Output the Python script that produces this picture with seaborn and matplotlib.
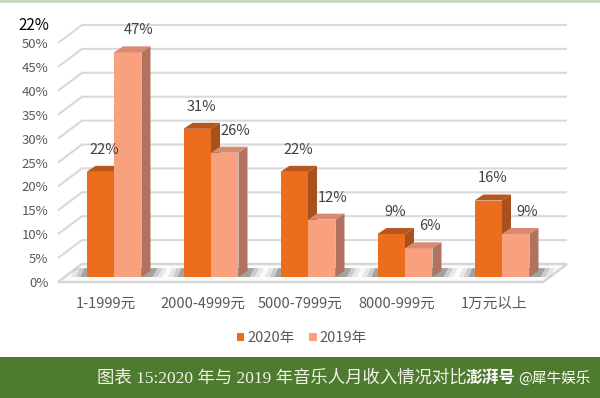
import numpy as np
import pandas as pd
import matplotlib
matplotlib.use('Agg')
import matplotlib.pyplot as plt
import seaborn as sns
from matplotlib.patches import Polygon, Rectangle

# 数据
categories = ['1-1999元', '2000-4999元', '5000-7999元', '8000-999元', '1万元以上']
years = ['2020年', '2019年']
vals_2020 = [22, 31, 22, 9, 16]
vals_2019 = [47, 26, 12, 6, 9]
yticks = list(range(0, 55, 5))

front_cols = ['#EB6E1E', '#F9A07F']
top_cols = ['#B8561E', '#D88B70']
side_cols = ['#A8501E', '#B07360']

df = pd.DataFrame({
    '收入': categories * 2,
    '年份': [years[0]] * len(categories) + [years[1]] * len(categories),
    '比例': vals_2020 + vals_2019,
})

sns.set_theme(style='white')
plt.rcParams['font.family'] = ['Noto Sans CJK SC', 'DejaVu Sans']

fig = plt.figure(figsize=(6, 3.98), dpi=100)
fig.patch.set_facecolor('white')
ax = fig.add_axes([58 / 600, 116 / 398, 517 / 600, 262 / 398])

# 像素 -> 数据 的比例
px_x = 97.0
px_y = 4.78

sns.barplot(data=df, x='收入', y='比例', hue='年份', order=categories,
            hue_order=years, palette=front_cols, width=0.567, saturation=1,
            linewidth=0, errorbar=None, ax=ax)

ax.set_xlim(-56 / px_x, 461 / px_x)
ax.set_ylim(-5 / px_y, 257 / px_y)

# 3D 底面和网格线
f0 = -5 / px_y
fdx, fdy = 24 / px_x, 18 / px_y
x0 = -56 / px_x
x_front_end = 429 / px_x
floor = Polygon([(x0, f0), (x_front_end, f0), (x_front_end + fdx, f0 + fdy),
                 (x0 + fdx, f0 + fdy)], closed=True, facecolor='#fbfbfb',
                edgecolor='#d6d6d6', lw=1.8, zorder=0.5, clip_on=False)
ax.add_patch(floor)
for v in yticks[1:]:
    ax.plot([x0, x0 + fdx, x_front_end + fdx], [v + f0, v + f0 + fdy, v + f0 + fdy],
            color='#d9d9d9', lw=1.5, zorder=0.4, clip_on=False, solid_capstyle='butt')

# 柱子的顶面和侧面
bar_dx, bar_dy = 9 / px_x, 6 / px_y
bars = []
for i, cont in enumerate(ax.containers):
    for p in cont:
        bars.append((p.get_x(), i, p))
bars.sort(key=lambda b: b[0])

# 阴影
for c in range(len(categories)):
    for k, a in enumerate([0.10, 0.16, 0.28]):
        e = 0.05 * (2 - k)
        sh = Polygon([(c - 0.284 - 0.06 - e, 0), (c + 0.284 + bar_dx + 0.02 + e, 0),
                      (c + 0.284 + bar_dx + 0.07 + e, bar_dy + 0.6),
                      (c - 0.284 - 0.02 - e, bar_dy + 0.6)],
                     closed=True, facecolor='#3a3a3a', alpha=a, lw=0, zorder=0.8)
        ax.add_patch(sh)

label_dx = [4 / px_x, 11 / px_x]
z = 2
for x, i, p in bars:
    w, h = p.get_width(), p.get_height()
    p.set_zorder(z)
    top = Polygon([(x, h), (x + w, h), (x + w + bar_dx, h + bar_dy), (x + bar_dx, h + bar_dy)],
                  closed=True, facecolor=top_cols[i], lw=0, zorder=z)
    side = Polygon([(x + w, 0), (x + w + bar_dx, bar_dy), (x + w + bar_dx, h + bar_dy), (x + w, h)],
                   closed=True, facecolor=side_cols[i], lw=0, zorder=z)
    ax.add_patch(top)
    ax.add_patch(side)
    ax.text(x + w / 2 + label_dx[i], h + bar_dy + 1.9, f'{h:.0f}%', ha='center', va='bottom',
            fontsize=10.5, color='#404040', zorder=20)
    z += 1

# 坐标轴
ax.set_yticks([v + f0 for v in yticks], [f'{v}%' for v in yticks])
ax.set_xticks([c - 8 / px_x for c in range(len(categories))], categories)
ax.tick_params(axis='y', length=0, pad=7, labelsize=9.5, labelcolor='#595959')
ax.tick_params(axis='x', length=0, pad=11, labelsize=10.5, labelcolor='#595959')
ax.set_xlabel('')
ax.set_ylabel('')
for s in ax.spines.values():
    s.set_visible(False)
ax.patch.set_alpha(0)

sns.move_legend(ax, 'center', bbox_to_anchor=(302 / 600, 60 / 398),
                bbox_transform=fig.transFigure, ncol=2, title=None, frameon=False,
                fontsize=10.5, handlelength=0.5, handleheight=0.5, handletextpad=0.2,
                columnspacing=1.0)
for t in ax.get_legend().get_texts():
    t.set_color('#595959')

fig.text(18 / 600, 1 - 26 / 398, '22%', fontsize=11, color='black', va='center',
         fontweight='medium')

# 底部绿色标题栏
fig.add_artist(Rectangle((0, 0), 1, 41 / 398, transform=fig.transFigure,
                         facecolor='#4E7B2F', lw=0, zorder=0))
fig.add_artist(Rectangle((0, 1 - 3 / 398), 1, 3 / 398, transform=fig.transFigure,
                         facecolor='#CBDABF', lw=0, zorder=0))
fig.text(97 / 600, 20 / 398, '图表 15:2020 年与 2019 年音乐人月收入情况对比',
         family=['Liberation Serif', 'Noto Sans CJK SC'], fontsize=12.5,
         color='#F2F2E8', va='center')
fig.text(466 / 600, 20 / 398, '澎湃号', fontsize=12, fontweight='bold', style='italic',
         color='white', va='center')
fig.text(518 / 600, 20 / 398, '@犀牛娱乐', fontsize=10.5, color='white', va='center')

fig.savefig('out.png', dpi=100)
